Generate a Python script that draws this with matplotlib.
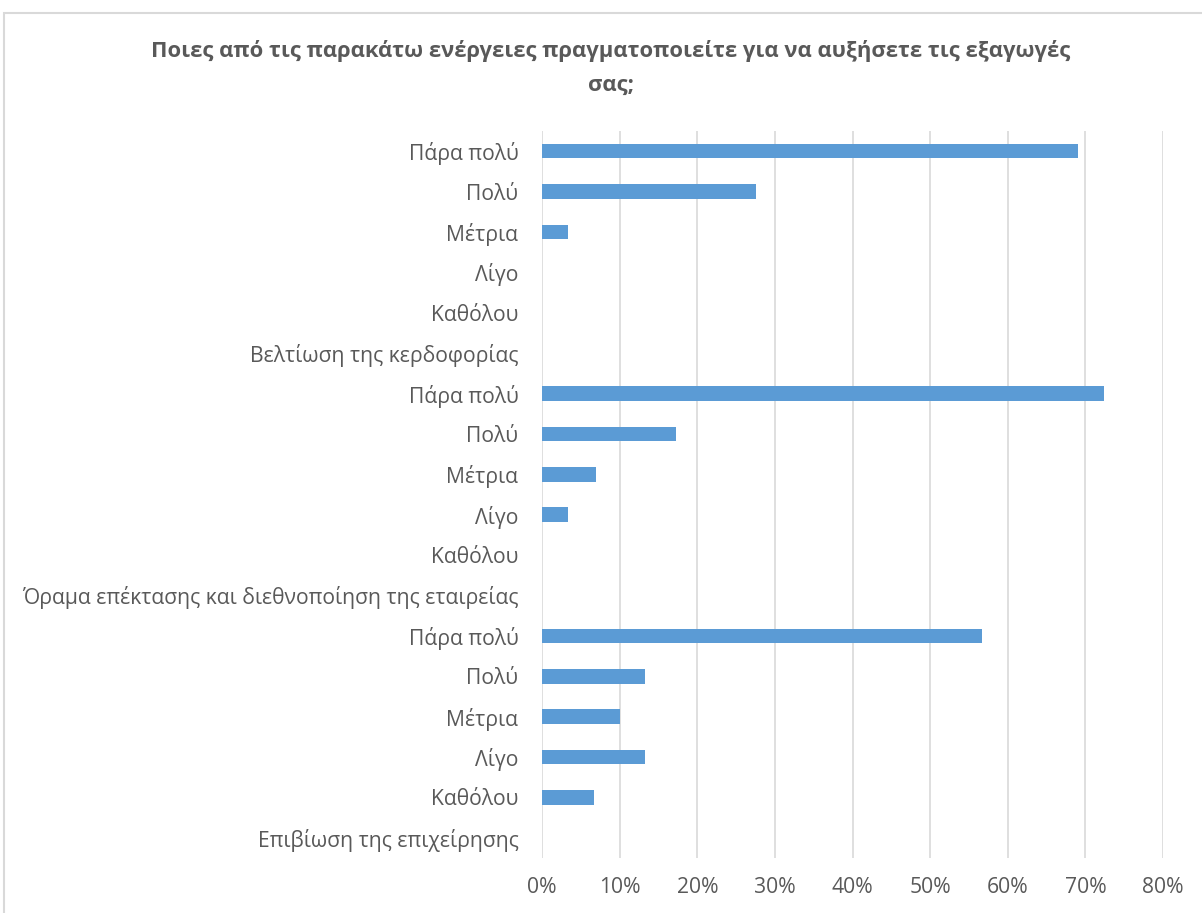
import matplotlib
matplotlib.use("Agg")
import matplotlib.pyplot as plt
from matplotlib.patches import Rectangle
from matplotlib.ticker import FuncFormatter

plt.rcParams["font.family"] = ["Open Sans", "DejaVu Sans"]

# categories listed bottom to top
labels = [
    "Επιβίωση της επιχείρησης",
    "Καθόλου", "Λίγο", "Μέτρια", "Πολύ", "Πάρα πολύ",
    "Όραμα επέκτασης και διεθνοποίηση της εταιρείας",
    "Καθόλου", "Λίγο", "Μέτρια", "Πολύ", "Πάρα πολύ",
    "Βελτίωση της κερδοφορίας",
    "Καθόλου", "Λίγο", "Μέτρια", "Πολύ", "Πάρα πολύ",
]
values = [
    0.0,
    0.067, 0.133, 0.100, 0.133, 0.567,
    0.0,
    0.0, 0.034, 0.069, 0.172, 0.724,
    0.0,
    0.0, 0.0, 0.034, 0.276, 0.690,
]
title = "Ποιες από τις παρακάτω ενέργειες πραγματοποιείτε για να αυξήσετε τις εξαγωγές\nσας;"

W, H = 1202, 913
fig = plt.figure(figsize=(W / 100, H / 100), dpi=100)
ax = fig.add_axes([542 / W, 1 - 858 / H, (1163 - 542) / W, (858 - 131) / H])

txt = "#595959"
ax.barh(range(len(labels)), values, height=0.36, color="#5b9bd5", zorder=3)
ax.set_ylim(-0.5, len(labels) - 0.5)
ax.set_xlim(0, 0.8)
ax.set_xticks([i / 10 for i in range(9)])
ax.xaxis.set_major_formatter(FuncFormatter(lambda v, p: f"{v * 100:.0f}%"))
ax.set_yticks(range(len(labels)))
ax.set_yticklabels(labels)
ax.grid(axis="x", color="#d9d9d9", linewidth=1.2, zorder=0)
for s in ax.spines.values():
    s.set_visible(False)
ax.tick_params(axis="both", length=0, colors=txt, labelsize=15.2)
ax.tick_params(axis="y", pad=17)
ax.tick_params(axis="x", pad=14)

fig.text(0.508, 1 - 68 / H, title, ha="center", va="center", fontsize=15.8,
         fontweight="bold", color=txt, linespacing=1.75)

# outer chart frame
fig.patches.append(Rectangle((4 / W, -0.1), 1.2, 1.1 - 13 / H,
                             transform=fig.transFigure, fill=False,
                             edgecolor="#d9d9d9", linewidth=1.5))

fig.savefig("out.png", dpi=100)
